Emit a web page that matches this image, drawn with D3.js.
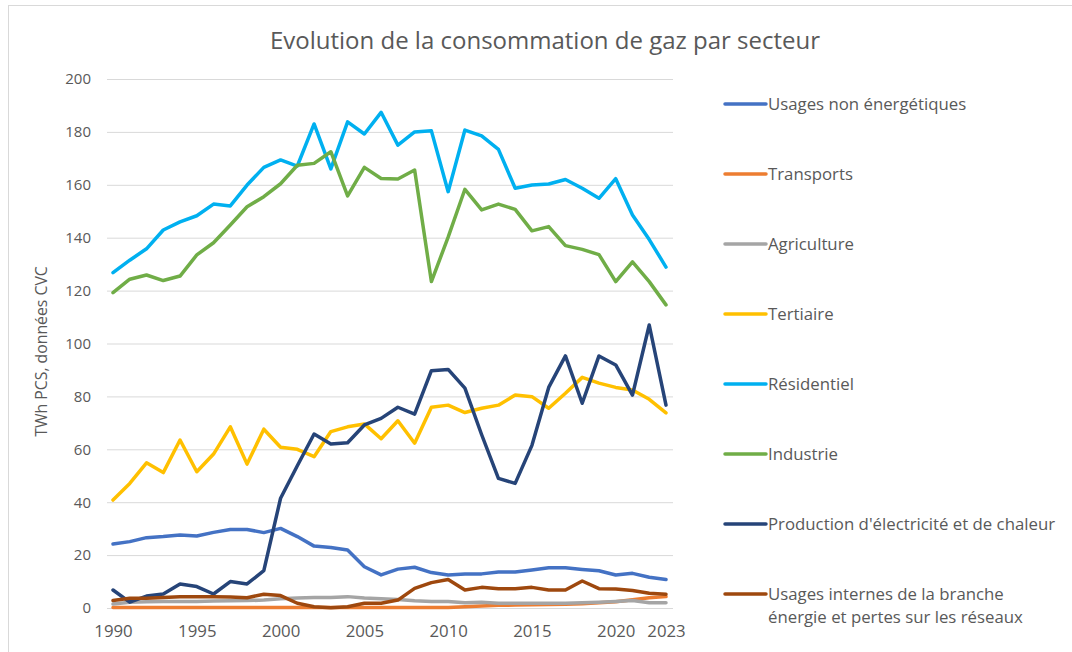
<!DOCTYPE html>
<html>
<head>
<meta charset="utf-8">
<script src="https://cdn.jsdelivr.net/npm/d3@7"></script>
<style>
  body { margin: 0; background: #fff; }
  text { font-family: "Open Sans", "Liberation Sans", sans-serif; fill: #595959; }
</style>
</head>
<body>
<svg id="chart" width="1072" height="652"></svg>
<script>
const years = d3.range(1990, 2024);
const xTickYears = [1990, 1995, 2000, 2005, 2010, 2015, 2020, 2023];
const yTicks = [0, 20, 40, 60, 80, 100, 120, 140, 160, 180, 200];

const seriesNames = [
    "Usages non énergétiques",
    "Transports",
    "Agriculture",
    "Tertiaire",
    "Résidentiel",
    "Industrie",
    "Production d'électricité et de chaleur",
    "Usages internes de la branche énergie et pertes sur les réseaux"
];

const seriesColors = ["#4472C4", "#ED7D31", "#A5A5A5", "#FFC000", "#00B0F0", "#70AD47", "#264478", "#9E480E"];

const nonEnergetiques = [24.2, 25.1, 26.6, 27.0, 27.6, 27.2, 28.6, 29.7, 29.7, 28.5, 30.1, 27.0, 23.4, 22.9, 21.9, 15.6, 12.5,
    14.7, 15.4, 13.4, 12.5, 12.9, 12.9, 13.6, 13.6, 14.4, 15.2, 15.2, 14.6, 14.1, 12.5, 13.1, 11.6, 10.8];
const transports = [0.2, 0.2, 0.2, 0.2, 0.2, 0.2, 0.2, 0.2, 0.2, 0.2, 0.2, 0.2, 0.2, 0.2, 0.2, 0.2, 0.2,
    0.2, 0.2, 0.2, 0.2, 0.5, 0.8, 1.0, 1.1, 1.2, 1.3, 1.4, 1.6, 2.0, 2.4, 3.1, 3.9, 4.3];
const agriculture = [1.5, 2.2, 2.4, 2.5, 2.5, 2.5, 2.6, 2.7, 2.8, 3.0, 3.5, 3.8, 4.0, 4.0, 4.3, 3.8, 3.5,
    3.2, 2.7, 2.5, 2.5, 2.0, 2.2, 1.8, 1.8, 1.8, 1.8, 1.8, 2.0, 2.2, 2.5, 2.8, 2.0, 2.0];
const tertiaire = [40.8, 47.1, 54.9, 51.2, 63.5, 51.5, 58.2, 68.5, 54.4, 67.6, 60.8, 60.0, 57.2, 66.7, 68.5, 69.6, 64.0,
    70.8, 62.3, 75.9, 76.7, 73.9, 75.5, 76.7, 80.5, 79.9, 75.5, 81.2, 87.2, 85.0, 83.4, 82.4, 78.9, 73.8];
const residentiel = [126.8, 131.5, 135.8, 142.9, 146.0, 148.3, 152.7, 152.0, 159.9, 166.6, 169.4, 167.1, 183.0, 166.0, 183.8, 179.2, 187.4,
    175.0, 180.0, 180.4, 157.4, 180.7, 178.5, 173.4, 158.7, 159.9, 160.3, 162.0, 158.7, 154.9, 162.3, 148.6, 139.3, 128.9];
const industrie = [119.2, 124.3, 125.9, 123.8, 125.5, 133.5, 138.1, 144.8, 151.7, 155.5, 160.4, 167.4, 168.1, 172.5, 155.8, 166.6, 162.4,
    162.2, 165.6, 123.4, 140.2, 158.3, 150.5, 152.7, 150.7, 142.6, 144.2, 137.0, 135.6, 133.6, 123.4, 130.9, 123.4, 114.6];
const production = [6.8, 2.2, 4.5, 5.3, 9.1, 8.1, 5.3, 10.0, 9.1, 14.1, 41.5, 53.8, 65.8, 62.0, 62.5, 69.2, 71.7,
    75.9, 73.3, 89.7, 90.2, 83.1, 65.5, 49.0, 47.1, 61.5, 83.4, 95.3, 77.4, 95.3, 91.9, 80.5, 107.0, 76.7];
const usagesInternes = [2.8, 3.7, 3.7, 4.0, 4.3, 4.3, 4.3, 4.2, 3.9, 5.2, 4.7, 1.8, 0.5, 0.1, 0.5, 1.8, 1.8,
    3.0, 7.4, 9.6, 10.8, 6.8, 7.8, 7.3, 7.3, 7.8, 6.8, 6.8, 10.2, 7.3, 7.2, 6.6, 5.6, 5.2];

const seriesValues = [nonEnergetiques, transports, agriculture, tertiaire, residentiel, industrie, production, usagesInternes];

const svg = d3.select('#chart');

// chart frame
svg.append('rect')
    .attr('x', 8.5).attr('y', 5.5)
    .attr('width', 1075).attr('height', 660)
    .attr('fill', '#fff')
    .attr('stroke', '#d9d9d9');

const plot = { left: 113, right: 666, top: 79, bottom: 608 };

const x = d3.scaleLinear()
    .domain([1990, 2023])
    .range([plot.left, plot.right]);

const y = d3.scaleLinear()
    .domain([0, 200])
    .range([plot.bottom, plot.top]);

// gridlines
svg.append('g')
    .selectAll('line')
    .data(yTicks)
    .join('line')
    .attr('x1', 107).attr('x2', 673)
    .attr('y1', d => y(d) + 0.5).attr('y2', d => y(d) + 0.5)
    .attr('stroke', '#d9d9d9')
    .attr('stroke-width', 1);

// y axis labels
const yAxis = svg.append('g')
    .attr('transform', `translate(${plot.left - 22},0)`)
    .call(d3.axisLeft(y).tickValues(yTicks).tickSize(0).tickPadding(0));
yAxis.select('.domain').remove();
yAxis.selectAll('text')
    .style('font-size', '15px')
    .attr('fill', '#595959');

// x axis labels
const xAxis = svg.append('g')
    .attr('transform', `translate(0,${plot.bottom + 17})`)
    .call(d3.axisBottom(x).tickValues(xTickYears).tickFormat(d3.format('d')).tickSize(0).tickPadding(0));
xAxis.select('.domain').remove();
xAxis.selectAll('text')
    .style('font-size', '16.8px')
    .attr('fill', '#595959');

// y axis title
svg.append('text')
    .attr('transform', `translate(47,${(plot.top + plot.bottom) / 2 + 8}) rotate(-90)`)
    .attr('text-anchor', 'middle')
    .style('font-size', '15.8px')
    .text('TWh PCS, données CVC');

// title
svg.append('text')
    .attr('x', 545).attr('y', 49)
    .attr('text-anchor', 'middle')
    .style('font-size', '24px')
    .text('Evolution de la consommation de gaz par secteur');

// lines
const line = d3.line()
    .x((d, i) => x(years[i]))
    .y(d => y(d));

svg.append('g')
    .selectAll('path')
    .data(seriesValues)
    .join('path')
    .attr('d', line)
    .attr('fill', 'none')
    .attr('stroke', (_, i) => seriesColors[i])
    .attr('stroke-width', 3.5)
    .attr('stroke-linejoin', 'round')
    .attr('stroke-linecap', 'round');

// legend
const legendLines = [
    ["Usages non énergétiques"],
    ["Transports"],
    ["Agriculture"],
    ["Tertiaire"],
    ["Résidentiel"],
    ["Industrie"],
    ["Production d'électricité et de chaleur"],
    ["Usages internes de la branche", "énergie et pertes sur les réseaux"]
];

const legend = svg.append('g')
    .selectAll('g')
    .data(seriesNames)
    .join('g')
    .attr('transform', (_, i) => `translate(725,${104 + i * 70})`);

legend.append('line')
    .attr('x1', 0).attr('x2', 41)
    .attr('y1', 0).attr('y2', 0)
    .attr('stroke', (_, i) => seriesColors[i])
    .attr('stroke-width', 3.5)
    .attr('stroke-linecap', 'round');

legend.append('text')
    .attr('x', 43)
    .attr('y', 6)
    .style('font-size', '16.8px')
    .selectAll('tspan')
    .data((_, i) => legendLines[i])
    .join('tspan')
    .attr('x', 43)
    .attr('dy', (_, j) => j === 0 ? 0 : 23)
    .text(d => d);
</script>
</body>
</html>
